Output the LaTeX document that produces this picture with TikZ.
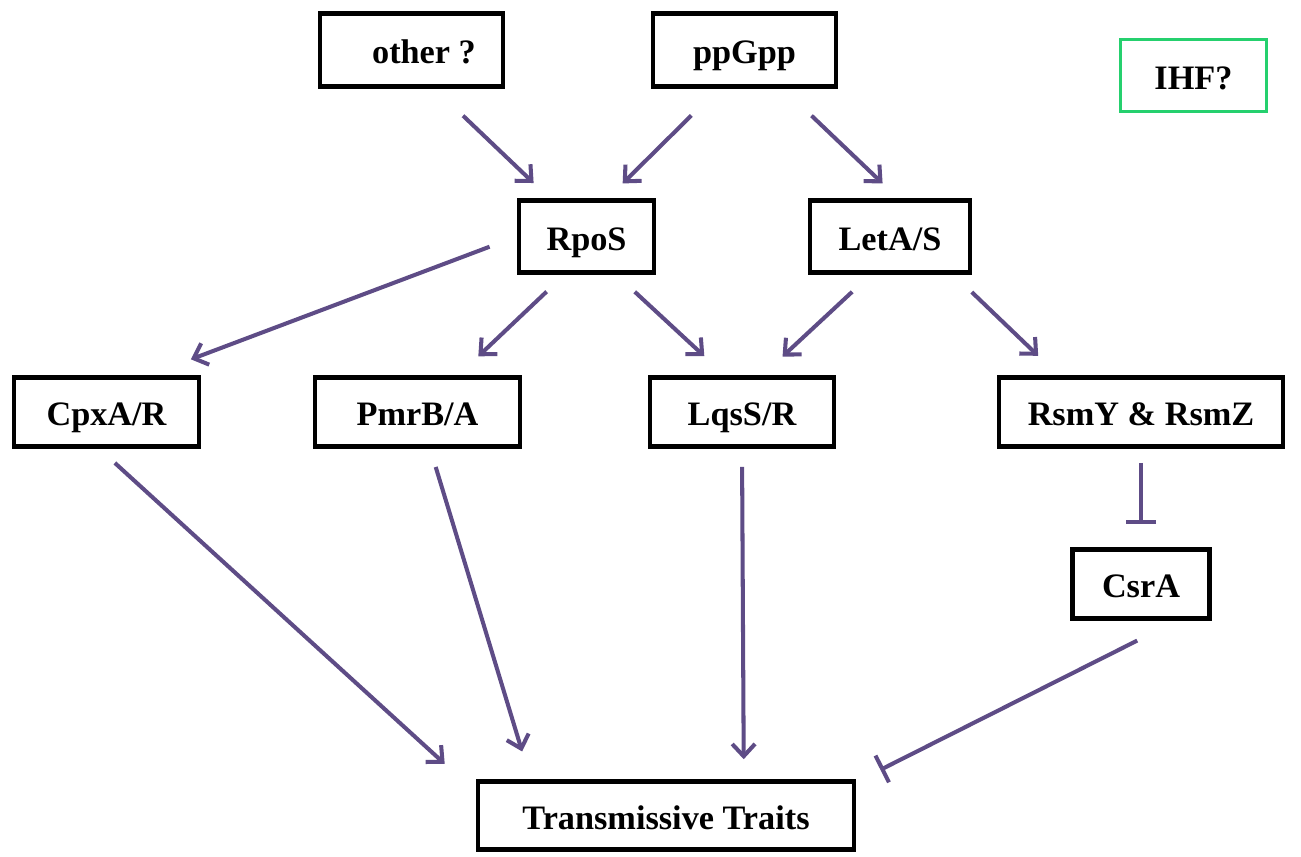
\documentclass[tikz,border=0pt]{standalone}
\usepackage{fontspec}
\setmainfont{Liberation Serif}
\usepackage{xcolor}
\usetikzlibrary{arrows.meta}
\definecolor{pathpurple}{RGB}{94,76,134}
\definecolor{boxgreen}{RGB}{37,208,110}

\begin{document}
\begin{tikzpicture}[
  gene/.style={draw, line width=2.6pt, rectangle, minimum height=1.44cm,
    font=\fontsize{19.5}{23}\selectfont\bfseries, inner sep=0pt,
    text height=15.5pt, text depth=0pt},
  act/.style={draw=pathpurple, line width=2.3pt,
    -{Straight Barb[length=7pt, width=13pt]}},
  inh/.style={draw=pathpurple, line width=2.3pt, -{Bar[width=0.6cm]}}]
  \useasboundingbox (0,0) rectangle (26.02,-17.12);

  \node[gene, minimum width=3.66cm, minimum height=1.46cm] (other) at (8.23,-1.00) {\hspace{0.5cm}other ?};
  \node[gene, minimum width=3.66cm, minimum height=1.46cm] (ppgpp) at (14.89,-1.00) {ppGpp};
  \node[gene, draw=boxgreen, line width=2pt, minimum width=2.92cm] (ihf) at (23.87,-1.51) {IHF?};

  \node[gene, minimum width=2.70cm] (rpos) at (11.73,-4.73) {RpoS};
  \node[gene, minimum width=3.20cm] (leta) at (17.80,-4.73) {LetA/S};

  \node[gene, minimum width=3.70cm, minimum height=1.38cm] (cpxa) at (2.13,-8.24) {CpxA/R};
  \node[gene, minimum width=4.10cm, minimum height=1.38cm] (pmrb) at (8.35,-8.24) {PmrB/A};
  \node[gene, minimum width=3.68cm, minimum height=1.38cm] (lqss) at (14.84,-8.24) {LqsS/R};
  \node[gene, minimum width=5.68cm, minimum height=1.38cm] (rsmy) at (22.82,-8.24) {RsmY \& RsmZ};
  \node[gene, minimum width=2.74cm, minimum height=1.38cm] (csra) at (22.82,-11.68) {CsrA};

  \node[gene, minimum width=7.52cm, minimum height=1.36cm] (traits) at (13.32,-16.31) {Transmissive Traits};

  \draw[act, shorten <=0.78cm, shorten >=0.44cm] (other.-59) -- (rpos.134);
  \draw[act, shorten <=0.76cm, shorten >=0.42cm] (ppgpp.-124) -- (rpos.61);
  \draw[act, shorten <=0.78cm, shorten >=0.43cm] (ppgpp.-45) -- (leta.78);
  \draw[act, shorten <=0.58cm, shorten >=0.90cm] (rpos.180) -- (cpxa.41);
  \draw[act, shorten <=0.49cm, shorten >=0.55cm] (rpos.-120) -- (pmrb.42);
  \draw[act, shorten <=0.50cm, shorten >=0.56cm] (rpos.-52) -- (lqss.115);
  \draw[act, shorten <=0.50cm, shorten >=0.55cm] (leta.-117) -- (lqss.61);
  \draw[act, shorten <=0.50cm, shorten >=0.56cm] (leta.-31) -- (rsmy.156);
  \draw[act, shorten <=0.42cm, shorten >=0.84cm] (cpxa.-101) -- (traits.173);
  \draw[act, shorten <=0.38cm, shorten >=0.58cm] (pmrb.-71) -- (traits.165);
  \draw[act, shorten <=0.36cm, shorten >=0.40cm] (lqss.south) -- (traits.25);
  \draw[inh, shorten <=0.28cm, shorten >=0.46cm] (rsmy.south) -- (csra.north);
  \draw[inh, shorten <=0.88cm, shorten >=0.54cm] (csra.-46) -- (traits.10);
\end{tikzpicture}
\end{document}
